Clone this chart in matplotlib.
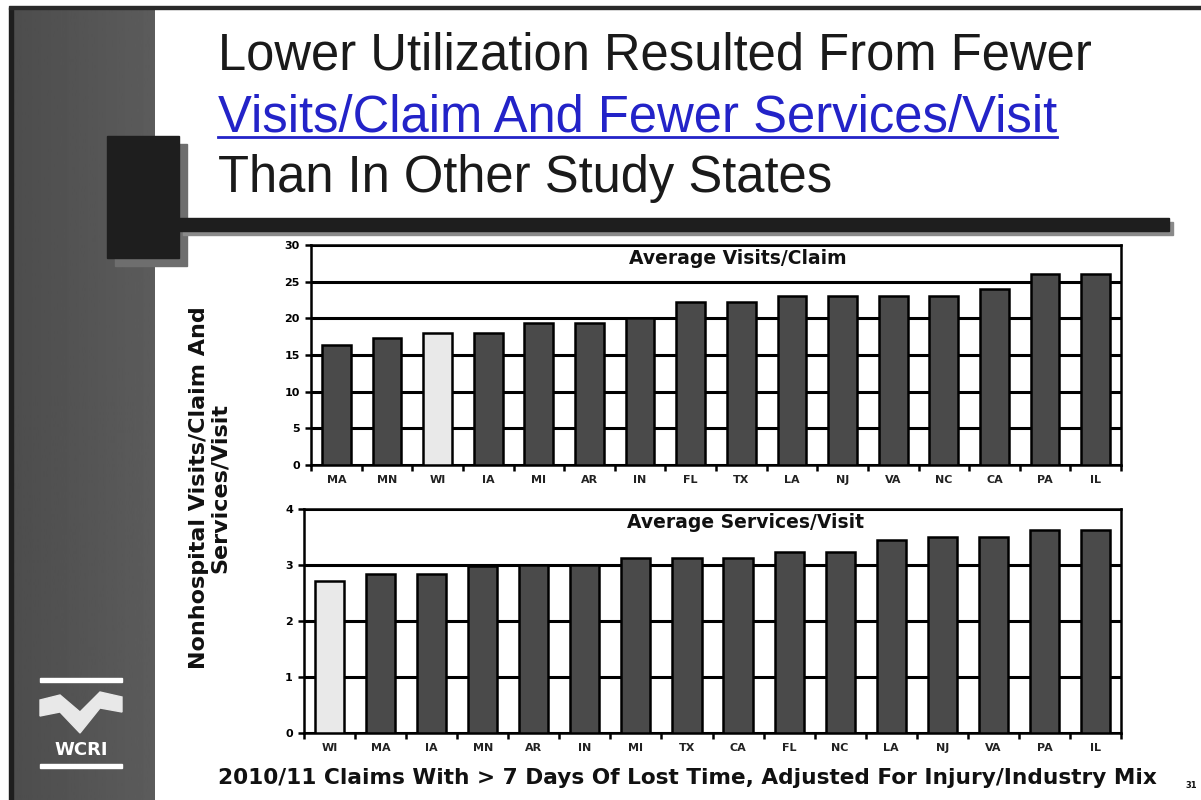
import matplotlib
matplotlib.use("Agg")
import matplotlib.pyplot as plt
from matplotlib.patches import Rectangle, Polygon
import numpy as np

# ---- data ----
visits_states = ["MA", "MN", "WI", "IA", "MI", "AR", "IN", "FL", "TX", "LA", "NJ", "VA", "NC", "CA", "PA", "IL"]
visits_values = [16.4, 17.3, 18.0, 18.0, 19.4, 19.4, 20.0, 22.2, 22.2, 23.1, 23.1, 23.1, 23.1, 24.0, 26.1, 26.1]

services_states = ["WI", "MA", "IA", "MN", "AR", "IN", "MI", "TX", "CA", "FL", "NC", "LA", "NJ", "VA", "PA", "IL"]
services_values = [2.72, 2.84, 2.84, 2.98, 3.0, 3.0, 3.13, 3.13, 3.13, 3.23, 3.23, 3.45, 3.50, 3.50, 3.62, 3.62]

visits_ticks = [0, 5, 10, 15, 20, 25, 30]
services_ticks = [0, 1, 2, 3, 4]

title_lines = ["Lower Utilization Resulted From Fewer",
               "Visits/Claim And Fewer Services/Visit",
               "Than In Other Study States"]
ylabel = "Nonhospital Visits/Claim And\nServices/Visit"
caption = "2010/11 Claims With > 7 Days Of Lost Time, Adjusted For Injury/Industry Mix"
highlight = "WI"

W, H = 1201, 800
fig = plt.figure(figsize=(W / 100, H / 100), dpi=100)
fig.patch.set_facecolor("white")

# background decoration axis in pixel coords
bg = fig.add_axes([0, 0, 1, 1], zorder=0)
bg.set_xlim(0, W)
bg.set_ylim(H, 0)
bg.axis("off")

# left sidebar with slight gradient
grad = np.linspace(0.30, 0.36, 100).reshape(1, -1)
bg.imshow(grad, extent=(10, 155, H, 8), cmap="gray", vmin=0, vmax=1, aspect="auto", zorder=1)
bg.add_patch(Rectangle((9, 8), 4, H, color="#1e1e1e", zorder=2))
# top line
bg.add_patch(Rectangle((9, 6), W, 3, color="#2a2a2a", zorder=2))
# shadow + black block
bg.add_patch(Rectangle((115, 144), 72, 122, color="#6e6e6e", zorder=2))
bg.add_patch(Rectangle((107, 136), 72, 122, color="#1e1e1e", zorder=3))
# horizontal bar with shadow
bg.add_patch(Rectangle((183, 222), 990, 13, color="#8a8a8a", zorder=2))
bg.add_patch(Rectangle((179, 218), 990, 13, color="#1e1e1e", zorder=3))

# WCRI logo
bg.add_patch(Rectangle((40, 678), 82, 4, color="white", zorder=4))
bg.add_patch(Rectangle((40, 764), 82, 4, color="white", zorder=4))
wave = Polygon([(40, 700), (60, 695), (80, 712), (100, 692), (122, 697),
                (122, 712), (100, 708), (80, 733), (60, 712), (40, 716)],
               closed=True, color="#e8e8e8", zorder=4)
bg.add_patch(wave)
bg.text(81, 750, "WCRI", color="white", fontsize=13, fontweight="bold",
        ha="center", va="center", zorder=5)

# title
tfam = ["Liberation Sans Narrow", "Liberation Sans", "DejaVu Sans"]
t1 = bg.text(218, 70, title_lines[0], fontsize=36.5, family=tfam, color="#1a1a1a", va="baseline", zorder=5)
t2 = bg.text(218, 131, title_lines[1], fontsize=36.5, family=tfam, color="#2323c8", va="baseline", zorder=5)
t3 = bg.text(218, 192, title_lines[2], fontsize=36.5, family=tfam, color="#1a1a1a", va="baseline", zorder=5)

# caption
bg.text(218, 778, caption, fontsize=15.6, fontweight="bold", color="#111111",
        ha="left", va="center", zorder=5)
bg.text(1191, 786, "31", fontsize=6, fontweight="bold", color="#111111",
        ha="center", va="center", zorder=5)

# y label
bg.text(209, 488, ylabel, fontsize=16, fontweight="bold", rotation=90,
        ha="center", va="center", multialignment="center", color="#111111", zorder=5, linespacing=1.05)

bar_dark = "#4a4a4a"
bar_light = "#e9e9e9"


def draw_panel(rect, states, values, ticks, label, lx):
    ax = fig.add_axes(rect, zorder=2)
    x = np.arange(len(states))
    colors = [bar_light if s == highlight else bar_dark for s in states]
    ax.set_axisbelow(True)
    ax.bar(x, values, width=0.57, color=colors, edgecolor="black", linewidth=1.8, zorder=3)
    ax.set_xlim(-0.5, len(states) - 0.5)
    ax.set_ylim(ticks[0], ticks[-1])
    ax.set_yticks(ticks)
    ax.set_yticklabels([str(t) for t in ticks], fontsize=8, fontweight="bold")
    ax.set_xticks(x)
    ax.set_xticklabels(states, fontsize=8, fontweight="bold", color="#222222")
    ax.set_xticks(np.arange(len(states) + 1) - 0.5, minor=True)
    ax.tick_params(axis="x", which="major", length=0, pad=7)
    ax.tick_params(axis="x", which="minor", length=4, width=1.8, direction="out")
    ax.tick_params(axis="y", length=4, width=1.8, direction="out", pad=4)
    ax.yaxis.grid(True, color="black", linewidth=2.2, zorder=1)
    for sp in ax.spines.values():
        sp.set_linewidth(1.8)
        sp.set_color("black")
    ax.text(lx, 0.94, label, transform=ax.transAxes, ha="center", va="center",
            fontsize=13.5, fontweight="bold", color="#111111", zorder=5)
    return ax


draw_panel([311 / W, 1 - 465 / H, 810 / W, 220 / H], visits_states, visits_values,
           visits_ticks, "Average Visits/Claim", 0.527)
draw_panel([304 / W, 1 - 733 / H, 817 / W, 224 / H], services_states, services_values,
           services_ticks, "Average Services/Visit", 0.54)

# underline for line 2
fig.canvas.draw()
r = fig.canvas.get_renderer()
bb = t2.get_window_extent(renderer=r)
bg.plot([bb.x0, bb.x1], [137, 137], color="#2323c8", linewidth=2, zorder=5)

fig.savefig("out.png", dpi=100, facecolor="white")
